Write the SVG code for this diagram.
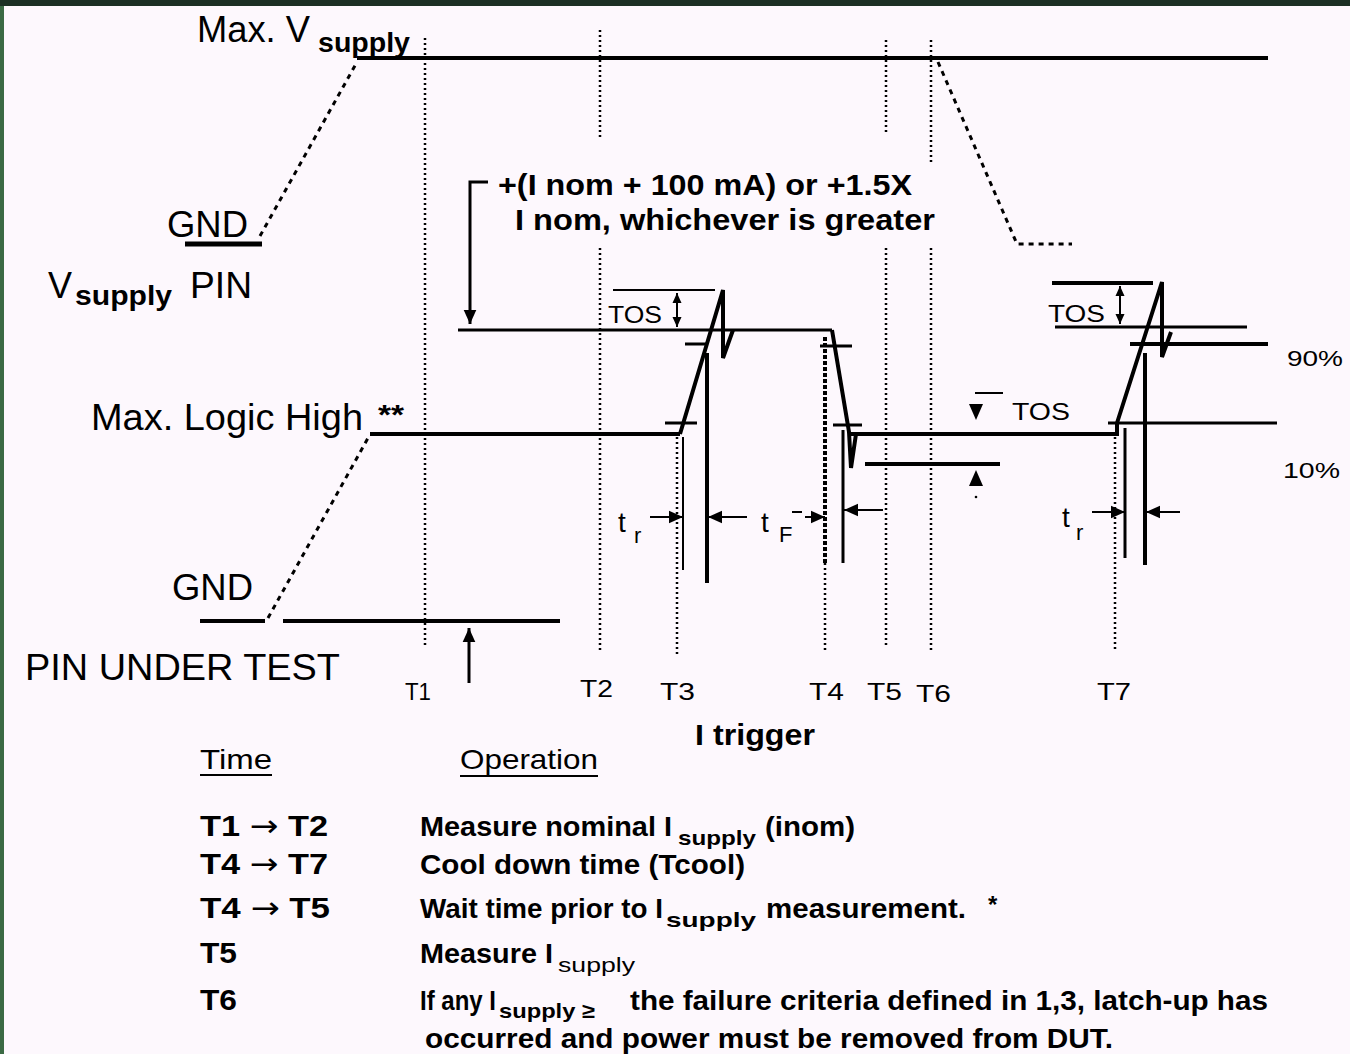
<svg xmlns="http://www.w3.org/2000/svg" width="1350" height="1054" viewBox="0 0 1350 1054">
<defs>
<marker id="ah" viewBox="0 0 10 10" refX="10" refY="5" markerUnits="userSpaceOnUse" markerWidth="16" markerHeight="14" orient="auto-start-reverse"><path d="M0,0.5 L10,5 L0,9.5 Z" fill="#000"/></marker>
<marker id="as" viewBox="0 0 10 10" refX="10" refY="5" markerUnits="userSpaceOnUse" markerWidth="10" markerHeight="12" orient="auto-start-reverse"><path d="M0,0.5 L10,5 L0,9.5 Z" fill="#000"/></marker>
<style>
.t{font-family:"Liberation Sans","DejaVu Sans",Arial,sans-serif;fill:#000}
.b{font-weight:bold}
.s36{font-size:36px}.s30{font-size:30px}.s28{font-size:28px}.s27{font-size:27px}.s24{font-size:24px}.s22{font-size:22px}.s21{font-size:21px}
.k{stroke:#000;fill:none}
.w5{stroke-width:5}.w4{stroke-width:4}.w3{stroke-width:3}.w2{stroke-width:2}
.dot{stroke:#000;fill:none;stroke-width:2.5;stroke-dasharray:2 3}
.dash{stroke:#000;fill:none;stroke-width:3;stroke-dasharray:5 5}
.ar{font-family:"DejaVu Sans",sans-serif;font-weight:normal}
</style>
</defs>
<rect width="1350" height="1054" fill="#1c3024"/>
<rect x="0" y="6" width="4" height="1048" fill="#3b6a44"/>
<rect x="4" y="6" width="1346" height="1048" fill="#fdf8fd"/>

<g id="markers">
<path class="dot" d="M425,38 V645"/>
<path class="dot" d="M600,30 V137 M600,248 V650"/>
<path class="dot" d="M677,437 V655"/>
<path class="dot" d="M825,563 V650"/>
<path class="dot" d="M886,40 V135 M886,248 V648"/>
<path class="dot" d="M931,40 V162 M931,248 V652"/>
<path class="dot" d="M1115,437 V650"/>
</g>

<g id="vsupply">
<text class="t s36" x="197" y="42" textLength="113" lengthAdjust="spacingAndGlyphs">Max. V</text>
<text class="t b s28" x="318" y="52" textLength="92" lengthAdjust="spacingAndGlyphs">supply</text>
<text class="t s36" x="167" y="237" textLength="81" lengthAdjust="spacingAndGlyphs">GND</text>
<text class="t s36" x="48" y="298" textLength="24" lengthAdjust="spacingAndGlyphs">V</text>
<text class="t b s28" x="75" y="305" textLength="97" lengthAdjust="spacingAndGlyphs">supply</text>
<text class="t s36" x="190" y="298" textLength="62" lengthAdjust="spacingAndGlyphs">PIN</text>
<path class="k w4" d="M357,58 H1268"/>
<path class="k w5" d="M185,244 H262"/>
<path class="dash" d="M260,236 L357,62"/>
<path class="dash" d="M938,62 L1017,244 H1072"/>
</g>

<g id="inom-label">
<path class="k w3" d="M488,182 H470 V324" marker-end="url(#ah)"/>
<text class="t b s30" x="498" y="195" textLength="414" lengthAdjust="spacingAndGlyphs">+(I nom + 100 mA) or +1.5X</text>
<text class="t b s30" x="515" y="230" textLength="420" lengthAdjust="spacingAndGlyphs">I nom, whichever is greater</text>
</g>

<g id="pin-under-test">
<text class="t s36" x="91" y="430" textLength="272" lengthAdjust="spacingAndGlyphs">Max. Logic High</text>
<text class="t b s28" x="378" y="424" textLength="26" lengthAdjust="spacingAndGlyphs">**</text>
<text class="t s36" x="172" y="600" textLength="81" lengthAdjust="spacingAndGlyphs">GND</text>
<text class="t s36" x="25" y="680" textLength="315" lengthAdjust="spacingAndGlyphs">PIN UNDER TEST</text>
<path class="k w4" d="M200,621 H265 M283,621 H560"/>
<path class="dash" d="M268,618 L368,438"/>
<path class="k w4" d="M370,434 H680"/>
</g>

<g id="trigger-pulse">
<path class="k w3" d="M458,330 H832"/>
<path class="k w4" d="M680,434 L723,290 L723,358 L733,330"/>
<path class="k w4" d="M832,330 L849,432 L851,468 L856,434"/>
<path class="k w4" d="M850,434 H1117 V423"/>
<path class="k w4" d="M1117,423 L1162,282 L1162,357 L1171,332"/>
<path class="k w3" d="M685,344 H708 M665,423 H697 M820,346 H852 M833,425 H862"/>
<path class="k w3" d="M1108,423 H1277"/>
<path class="k w4" d="M1130,344 H1268"/>
<path class="k w3" d="M1055,327 H1247"/>
<path class="k w4" d="M1052,283 H1153"/>
<path class="k w2" d="M613,290 H715"/>
<path class="k w2" d="M677,293 V327" marker-start="url(#as)" marker-end="url(#as)"/>
<path class="k w2" d="M1120,286 V324" marker-start="url(#as)" marker-end="url(#as)"/>
<path class="k w4" d="M865,464 H1000"/>
<path class="k w2" d="M975,393 H1003"/>
<path d="M969,404 H983 L976,420 Z" fill="#000"/>
<path d="M969,486 H983 L976,470 Z" fill="#000"/>
<circle cx="976" cy="497" r="1.3" fill="#000"/>
<text class="t s24" x="608" y="323" textLength="54" lengthAdjust="spacingAndGlyphs">TOS</text>
<text class="t s24" x="1012" y="420" textLength="58" lengthAdjust="spacingAndGlyphs">TOS</text>
<text class="t s24" x="1048" y="322" textLength="57" lengthAdjust="spacingAndGlyphs">TOS</text>
<text class="t s22" x="1287" y="366" textLength="56" lengthAdjust="spacingAndGlyphs">90%</text>
<text class="t s22" x="1283" y="478" textLength="57" lengthAdjust="spacingAndGlyphs">10%</text>
</g>

<g id="timing-edges">
<path class="k w2" d="M683,437 V570"/>
<path class="k w4" d="M707,353 V583"/>
<path class="k" style="stroke-width:4;stroke-dasharray:4 2" d="M825,337 V563"/>
<path class="k w3" d="M843,430 V563"/>
<path class="k w3" d="M1125,428 V558"/>
<path class="k w4" d="M1145,353 V565"/>
<path class="k w2" d="M650,517 H683" marker-end="url(#ah)"/>
<path class="k w2" d="M747,517 H708" marker-end="url(#ah)"/>
<path class="k w2" d="M792,512 H802"/>
<path class="k w2" d="M805,517 H825" marker-end="url(#ah)"/>
<path class="k w2" d="M883,510 H844" marker-end="url(#ah)"/>
<path class="k w2" d="M1092,512 H1125" marker-end="url(#ah)"/>
<path class="k w2" d="M1180,512 H1146" marker-end="url(#ah)"/>
<text class="t s28" x="618" y="532">t</text>
<text class="t s22" x="634" y="543">r</text>
<text class="t s28" x="761" y="532">t</text>
<text class="t s22" x="779" y="542">F</text>
<text class="t s28" x="1062" y="527">t</text>
<text class="t s22" x="1076" y="540">r</text>
</g>

<g id="time-labels">
<text class="t s24" x="405" y="700" textLength="26" lengthAdjust="spacingAndGlyphs">T1</text>
<text class="t s24" x="580" y="697" textLength="33" lengthAdjust="spacingAndGlyphs">T2</text>
<text class="t s24" x="660" y="700" textLength="35" lengthAdjust="spacingAndGlyphs">T3</text>
<text class="t s24" x="809" y="700" textLength="35" lengthAdjust="spacingAndGlyphs">T4</text>
<text class="t s24" x="867" y="700" textLength="35" lengthAdjust="spacingAndGlyphs">T5</text>
<text class="t s24" x="916" y="702" textLength="35" lengthAdjust="spacingAndGlyphs">T6</text>
<text class="t s24" x="1097" y="700" textLength="34" lengthAdjust="spacingAndGlyphs">T7</text>
<path class="k w3" d="M469,683 V628" marker-end="url(#ah)"/>
<text class="t b s30" x="695" y="745" textLength="120" lengthAdjust="spacingAndGlyphs">I trigger</text>
</g>

<g id="table">
<text class="t s28" x="200" y="769" textLength="72" lengthAdjust="spacingAndGlyphs">Time</text>
<path class="k w2" d="M200,775 H272"/>
<text class="t s28" x="460" y="769" textLength="138" lengthAdjust="spacingAndGlyphs">Operation</text>
<path class="k w2" d="M460,776 H598"/>

<text class="t b s30" x="200" y="836" textLength="128" lengthAdjust="spacingAndGlyphs">T1 <tspan class="ar">→</tspan> T2</text>
<text class="t b s28" x="420" y="836" textLength="252" lengthAdjust="spacingAndGlyphs">Measure nominal I</text>
<text class="t b s21" x="678" y="845" textLength="78" lengthAdjust="spacingAndGlyphs">supply</text>
<text class="t b s28" x="765" y="836" textLength="90" lengthAdjust="spacingAndGlyphs">(inom)</text>

<text class="t b s30" x="200" y="874" textLength="128" lengthAdjust="spacingAndGlyphs">T4 <tspan class="ar">→</tspan> T7</text>
<text class="t b s28" x="420" y="874" textLength="325" lengthAdjust="spacingAndGlyphs">Cool down time (Tcool)</text>

<text class="t b s30" x="200" y="918" textLength="130" lengthAdjust="spacingAndGlyphs">T4 <tspan class="ar">→</tspan> T5</text>
<text class="t b s27" x="420" y="918" textLength="243" lengthAdjust="spacingAndGlyphs">Wait time prior to I</text>
<text class="t b s21" x="666" y="927" textLength="90" lengthAdjust="spacingAndGlyphs">supply</text>
<text class="t b s28" x="766" y="918" textLength="200" lengthAdjust="spacingAndGlyphs">measurement.</text>
<text class="t b s24" x="988" y="913">*</text>

<text class="t b s30" x="200" y="963" textLength="37" lengthAdjust="spacingAndGlyphs">T5</text>
<text class="t b s28" x="420" y="963" textLength="133" lengthAdjust="spacingAndGlyphs">Measure I</text>
<text class="t s21" x="558" y="972" textLength="77" lengthAdjust="spacingAndGlyphs">supply</text>

<text class="t b s30" x="200" y="1010" textLength="37" lengthAdjust="spacingAndGlyphs">T6</text>
<text class="t b s24" transform="translate(420,1010) scale(1,1.18)" x="0" y="0" textLength="76" lengthAdjust="spacingAndGlyphs">If any I</text>
<text class="t b s21" x="499" y="1018" textLength="96" lengthAdjust="spacingAndGlyphs">supply ≥</text>
<text class="t b s28" x="630" y="1010" textLength="638" lengthAdjust="spacingAndGlyphs">the failure criteria defined in 1,3, latch-up has</text>
<text class="t b s28" x="425" y="1048" textLength="688" lengthAdjust="spacingAndGlyphs">occurred and power must be removed from DUT.</text>
</g>
</svg>
